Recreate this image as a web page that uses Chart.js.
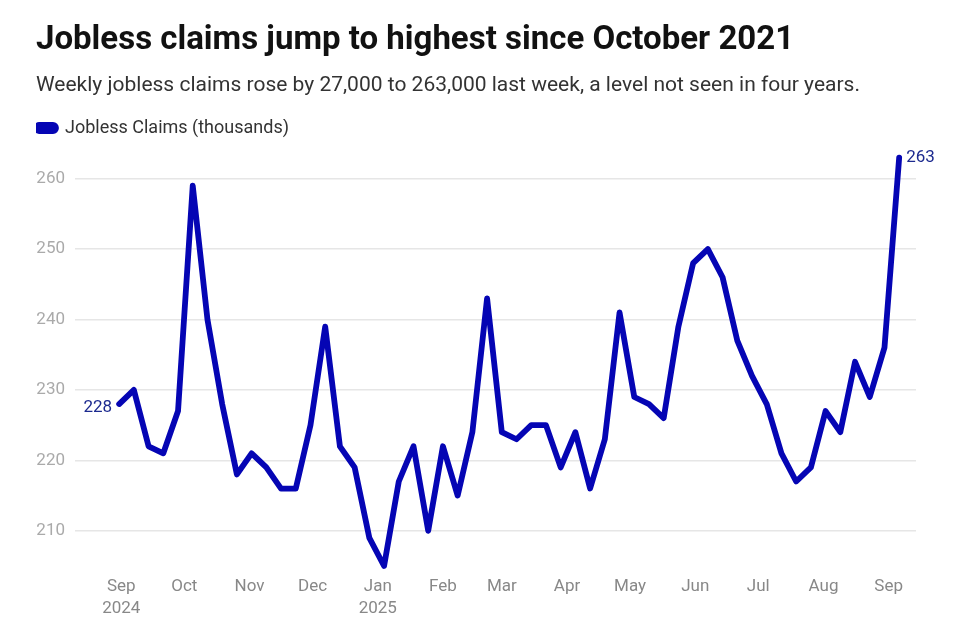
<!DOCTYPE html>
<html>
<head>
<meta charset="utf-8">
<script src="https://cdn.jsdelivr.net/npm/chart.js@4.4.1/dist/chart.umd.min.js"></script>
<style>
  html, body { margin: 0; padding: 0; background: #fff; }
  #wrap { width: 954px; height: 625px; position: relative; }
</style>
</head>
<body>
<div id="wrap"><canvas id="grafico"></canvas></div>
<script>
// weekly initial jobless claims (thousands), first week ending 2024-08-31
const firstWeek = '2024-08-31';
const claims = [
  228, 230, 222, 221, 227, 259, 240, 228, 218, 221,
  219, 216, 216, 225, 239, 222, 219, 209, 205, 217,
  222, 210, 222, 215, 224, 243, 224, 223, 225, 225,
  219, 224, 216, 223, 241, 229, 228, 226, 239, 248,
  250, 246, 237, 232, 228, 221, 217, 219, 227, 224,
  234, 229, 236, 263
];
const tickMonths = [
  '2024-09-01', '2024-10-01', '2024-11-01', '2024-12-01', '2025-01-01',
  '2025-02-01', '2025-03-01', '2025-04-01', '2025-05-01', '2025-06-01',
  '2025-07-01', '2025-08-01', '2025-09-01'
];
const tickLabels = [
  ['Sep', '2024'], 'Oct', 'Nov', 'Dec', ['Jan', '2025'],
  'Feb', 'Mar', 'Apr', 'May', 'Jun', 'Jul', 'Aug', 'Sep'
];
const yTicks = [210, 220, 230, 240, 250, 260];

const DIA = 86400000;
const inicio = Date.parse(firstWeek);
const diaDe = s => (Date.parse(s) - inicio) / DIA;

const pontos = claims.map((v, i) => ({ x: i * 7, y: v }));
const posTicks = tickMonths.map(diaDe);

const azul = '#0505b4';

// rótulos nas pontas da linha
const rotulosPontas = {
  id: 'rotulosPontas',
  afterDatasetsDraw(chart) {
    const meta = chart.getDatasetMeta(0);
    const p0 = meta.data[0];
    const p1 = meta.data[meta.data.length - 1];
    const ctx = chart.ctx;
    ctx.save();
    ctx.font = '17px Roboto';
    ctx.fillStyle = '#1c2a8f';
    ctx.textBaseline = 'middle';
    ctx.textAlign = 'right';
    ctx.fillText(String(claims[0]), p0.x - 7, p0.y + 4);
    ctx.textAlign = 'left';
    ctx.fillText(String(claims[claims.length - 1]), p1.x + 7, p1.y);
    ctx.restore();
  }
};

new Chart(document.getElementById('grafico'), {
  type: 'line',
  data: {
    datasets: [{
      label: 'Jobless Claims (thousands)',
      data: pontos,
      borderColor: azul,
      backgroundColor: azul,
      borderWidth: 5.8,
      pointRadius: 0,
      tension: 0,
      clip: false,
      borderJoinStyle: 'round',
      borderCapStyle: 'round'
    }]
  },
  options: {
    responsive: true,
    maintainAspectRatio: false,
    animation: false,
    layout: { padding: { left: 36, right: 38, top: 0, bottom: 0 } },
    plugins: {
      title: {
        display: true,
        text: 'Jobless claims jump to highest since October 2021',
        align: 'start',
        color: '#111',
        font: { family: 'Roboto', size: 33, weight: 'bold' },
        padding: { top: 21, bottom: 12.8 }
      },
      subtitle: {
        display: true,
        text: 'Weekly jobless claims rose by 27,000 to 263,000 last week, a level not seen in four years.',
        align: 'start',
        color: '#333',
        font: { family: 'Roboto', size: 21 },
        padding: { top: 0, bottom: 20.4 }
      },
      legend: {
        display: true,
        align: 'start',
        labels: {
          color: '#333',
          font: { family: 'Roboto', size: 18 },
          boxWidth: 20,
          boxHeight: 6,
          useBorderRadius: true,
          borderRadius: 3,
          padding: 0
        }
      },
      tooltip: { enabled: false }
    },
    scales: {
      x: {
        type: 'linear',
        min: -21,
        max: 379,
        grid: { display: false, drawTicks: false },
        border: { display: false },
        afterBuildTicks: s => { s.ticks = posTicks.map(v => ({ value: v })); },
        afterFit: s => { s.height = 59; },
        ticks: {
          autoSkip: false,
          maxRotation: 0,
          padding: 10,
          color: '#888',
          font: { family: 'Roboto', size: 17, lineHeight: 1.3 },
          callback: (v) => {
            const i = posTicks.indexOf(v);
            return i >= 0 ? tickLabels[i] : '';
          }
        }
      },
      y: {
        min: 205,
        max: 264.5,
        grid: { color: '#e6e6e6', drawTicks: false, lineWidth: 1.5 },
        border: { display: false },
        afterBuildTicks: s => { s.ticks = yTicks.map(v => ({ value: v })); },
        afterFit: s => { s.width = 39; },
        ticks: {
          padding: 10,
          color: '#aaa',
          font: { family: 'Roboto', size: 17 }
        }
      }
    }
  },
  plugins: [rotulosPontas]
});
</script>
</body>
</html>
